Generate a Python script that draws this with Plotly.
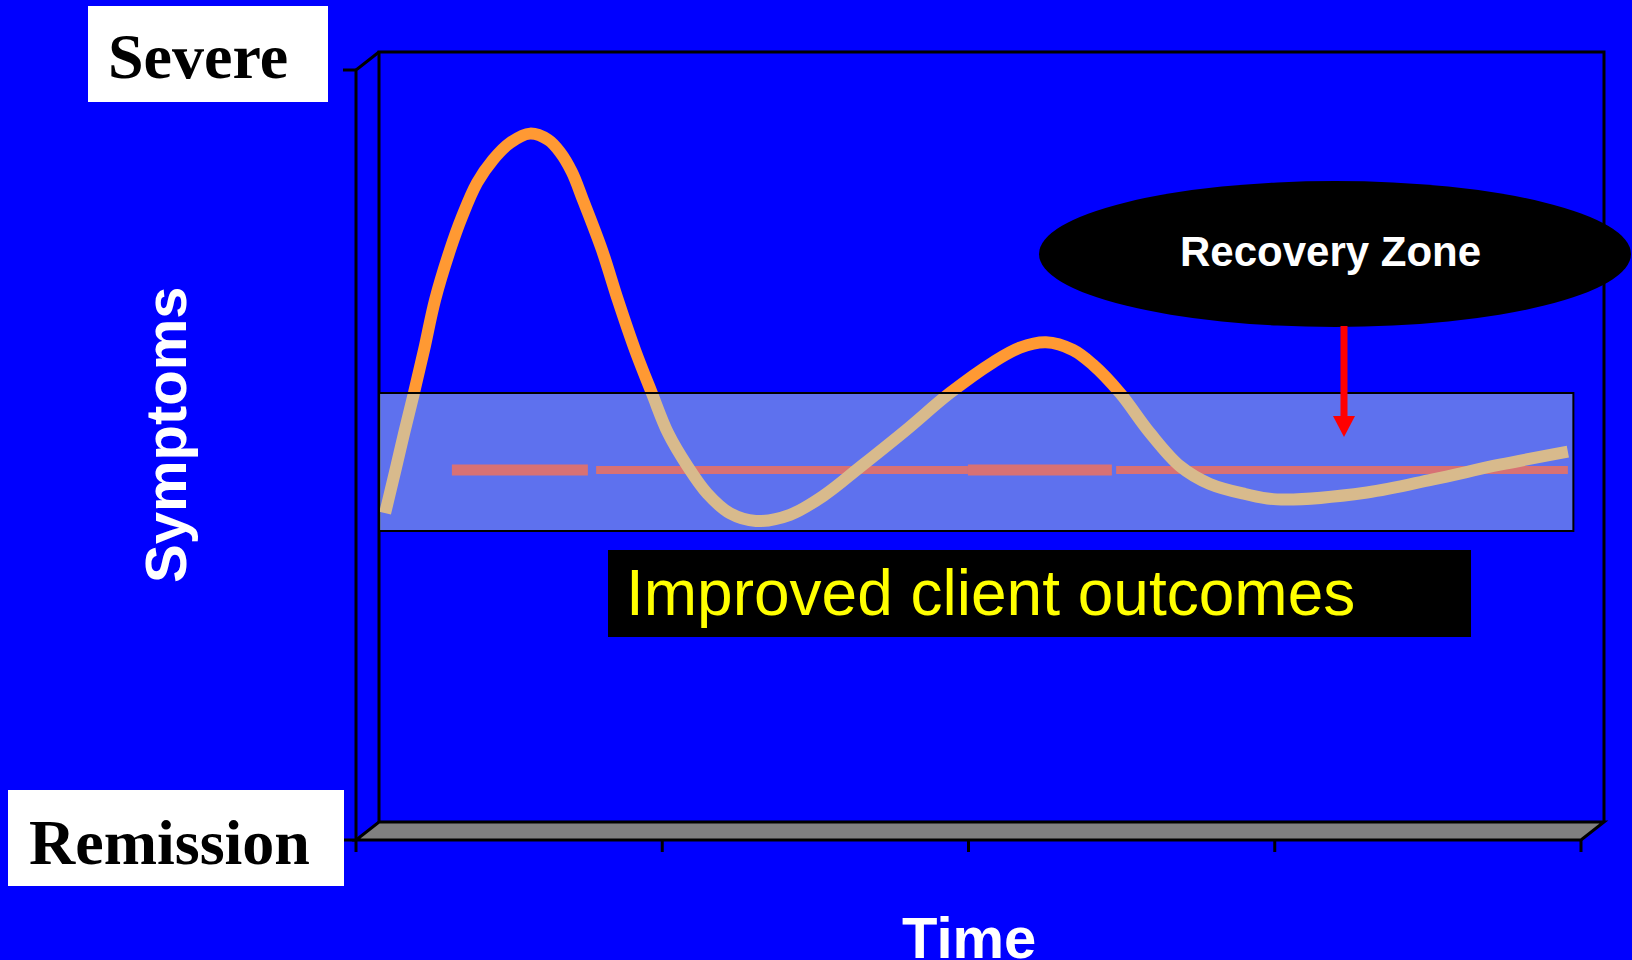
import plotly.graph_objects as go

# ---- data -------------------------------------------------------------
# Time runs over four intervals (0..4); symptom severity from 0 (Remission) to 10 (Severe)
time_ticks = [0, 1, 2, 3, 4]
symptom_range = [0, 10]

# Symptom course over time
course_time = [0.020, 0.056, 0.082, 0.114, 0.147, 0.183, 0.232, 0.271, 0.320, 0.372,
               0.428, 0.493, 0.552, 0.591, 0.630, 0.666, 0.728, 0.780, 0.836, 0.891,
               0.944, 1.009, 1.071, 1.146, 1.231, 1.342, 1.456, 1.571, 1.718, 1.864,
               2.005, 2.093, 2.178, 2.266, 2.331, 2.420, 2.518, 2.616, 2.713, 2.828,
               2.932, 3.226, 3.442, 3.660, 3.882]
course_level = [4.01, 4.61, 5.05, 5.57, 6.13, 6.78, 7.43, 7.86, 8.30, 8.60,
                8.82, 8.94, 8.86, 8.70, 8.44, 8.08, 7.43, 6.78, 6.13, 5.57,
                5.05, 4.61, 4.27, 4.01, 3.91, 3.99, 4.25, 4.61, 5.08, 5.57,
                5.97, 6.16, 6.23, 6.13, 5.94, 5.57, 5.05, 4.62, 4.39, 4.26,
                4.19, 4.28, 4.45, 4.64, 4.81]

# Target symptom level, drawn as a broken line
target_level = 4.57
target_start = [0.238, 0.709, 1.923, 2.407]
target_end = [0.682, 1.923, 2.393, 3.882]

# Recovery zone band
zone_low, zone_high = 3.78, 5.57
zone_start, zone_end = 0.0, 3.90

# ---- page geometry (pixels) -------------------------------------------
W, H = 1632, 960
BLUE = "#0000FF"
SANS = "Liberation Sans, Arial, sans-serif"
SERIF = "Liberation Serif, Times New Roman, serif"


def px(x):
    return x / W


def py(y):
    return 1 - y / H


def path(points, close=False):
    d = "M" + " L".join(f"{px(x):.5f},{py(y):.5f}" for x, y in points)
    return d + (" Z" if close else "")


# back wall and floor of the 3-D frame
wall_l, wall_r, wall_t, wall_b = 379, 1604, 52, 822
depth_x, depth_y = 23, 18
front_l, front_r, front_t, front_b = wall_l - depth_x, wall_r - depth_x, wall_t + depth_y, wall_b + depth_y

fig = go.Figure()

seg_widths = [11, 8, 11, 8]
for x0, x1, w in zip(target_start, target_end, seg_widths):
    fig.add_trace(go.Scatter(
        x=[x0, x1], y=[target_level, target_level], mode="lines",
        line=dict(color="#FF0000", width=w), hoverinfo="skip", showlegend=False))

fig.add_trace(go.Scatter(
    x=course_time, y=course_level, mode="lines",
    line=dict(color="#FF9933", width=12, shape="spline", smoothing=1.0, simplify=False),
    hoverinfo="skip", showlegend=False))

shapes = []
frame = dict(color="black", width=3)

# floor
shapes.append(dict(type="path", xref="paper", yref="paper", layer="below",
                   path=path([(front_l, front_b), (front_r, front_b), (wall_r, wall_b), (wall_l, wall_b)], True),
                   fillcolor="#808080", line=frame))
# back wall outline
shapes.append(dict(type="path", xref="paper", yref="paper", layer="below",
                   path=path([(wall_l, wall_b), (wall_l, wall_t), (wall_r, wall_t), (wall_r, wall_b)]),
                   line=frame))
# front value axis with its top edge
shapes.append(dict(type="path", xref="paper", yref="paper", layer="below",
                   path=path([(front_l, front_b), (front_l, front_t), (wall_l, wall_t)]),
                   line=frame))
# value axis ticks
for ty in (front_t, front_b):
    shapes.append(dict(type="line", xref="paper", yref="paper", layer="below",
                       x0=px(front_l - 13), x1=px(front_l), y0=py(ty), y1=py(ty), line=frame))
# time axis ticks
step = (front_r - front_l) / (len(time_ticks) - 1)
for t in time_ticks:
    tx = front_l + t * step
    shapes.append(dict(type="line", xref="paper", yref="paper", layer="below",
                       x0=px(tx), x1=px(tx), y0=py(front_b), y1=py(front_b + 12), line=frame))

# recovery zone band (translucent, over the curve)
shapes.append(dict(type="rect", xref="x", yref="y", layer="above",
                   x0=zone_start, x1=zone_end, y0=zone_low, y1=zone_high,
                   fillcolor="rgba(181,216,222,0.52)", line=dict(color="black", width=2)))

# label boxes
shapes.append(dict(type="rect", xref="paper", yref="paper", layer="above",
                   x0=px(88), x1=px(328), y0=py(102), y1=py(6),
                   fillcolor="white", line=dict(width=0)))
shapes.append(dict(type="rect", xref="paper", yref="paper", layer="above",
                   x0=px(8), x1=px(344), y0=py(886), y1=py(790),
                   fillcolor="white", line=dict(width=0)))
shapes.append(dict(type="rect", xref="paper", yref="paper", layer="above",
                   x0=px(608), x1=px(1471), y0=py(637), y1=py(550),
                   fillcolor="black", line=dict(width=0)))
# recovery zone callout
shapes.append(dict(type="circle", xref="paper", yref="paper", layer="above",
                   x0=px(1039), x1=px(1631), y0=py(327), y1=py(181),
                   fillcolor="black", line=dict(width=0)))
shapes.append(dict(type="line", xref="paper", yref="paper", layer="above",
                   x0=px(1344), x1=px(1344), y0=py(326), y1=py(418),
                   line=dict(color="#FF0000", width=7)))
shapes.append(dict(type="path", xref="paper", yref="paper", layer="above",
                   path=path([(1333, 416), (1355, 416), (1344, 437)], True),
                   fillcolor="#FF0000", line=dict(width=0)))

annotations = [
    dict(text="<b>Severe</b>", x=px(106), y=py(56), xanchor="left", yanchor="middle",
         font=dict(family=SERIF, size=64, color="black")),
    dict(text="<b>Remission</b>", x=px(27), y=py(842), xanchor="left", yanchor="middle",
         font=dict(family=SERIF, size=64, color="black")),
    dict(text="<b>Symptoms</b>", x=px(165), y=py(435), xanchor="center", yanchor="middle",
         textangle=-90, font=dict(family=SANS, size=58, color="white")),
    dict(text="<b>Time</b>", x=px(969), y=py(937), xanchor="center", yanchor="middle",
         font=dict(family=SANS, size=58, color="white")),
    dict(text="<b>Recovery Zone</b>", x=px(1330), y=py(251), xanchor="center", yanchor="middle",
         font=dict(family=SANS, size=42, color="white")),
    dict(text="Improved client outcomes", x=px(624), y=py(593), xanchor="left", yanchor="middle",
         font=dict(family=SANS, size=64, color="#FFFF00")),
]
for a in annotations:
    a.update(xref="paper", yref="paper", showarrow=False)

fig.update_layout(
    width=W, height=H,
    margin=dict(l=0, r=0, t=0, b=0),
    paper_bgcolor=BLUE, plot_bgcolor="rgba(0,0,0,0)",
    xaxis=dict(range=[time_ticks[0], time_ticks[-1]], domain=[px(wall_l), px(wall_r)],
               visible=False, fixedrange=True),
    yaxis=dict(range=symptom_range, domain=[py(wall_b), py(wall_t)],
               visible=False, fixedrange=True),
    shapes=shapes, annotations=annotations, showlegend=False,
)

fig.write_html("out.html", config={"displayModeBar": False})
